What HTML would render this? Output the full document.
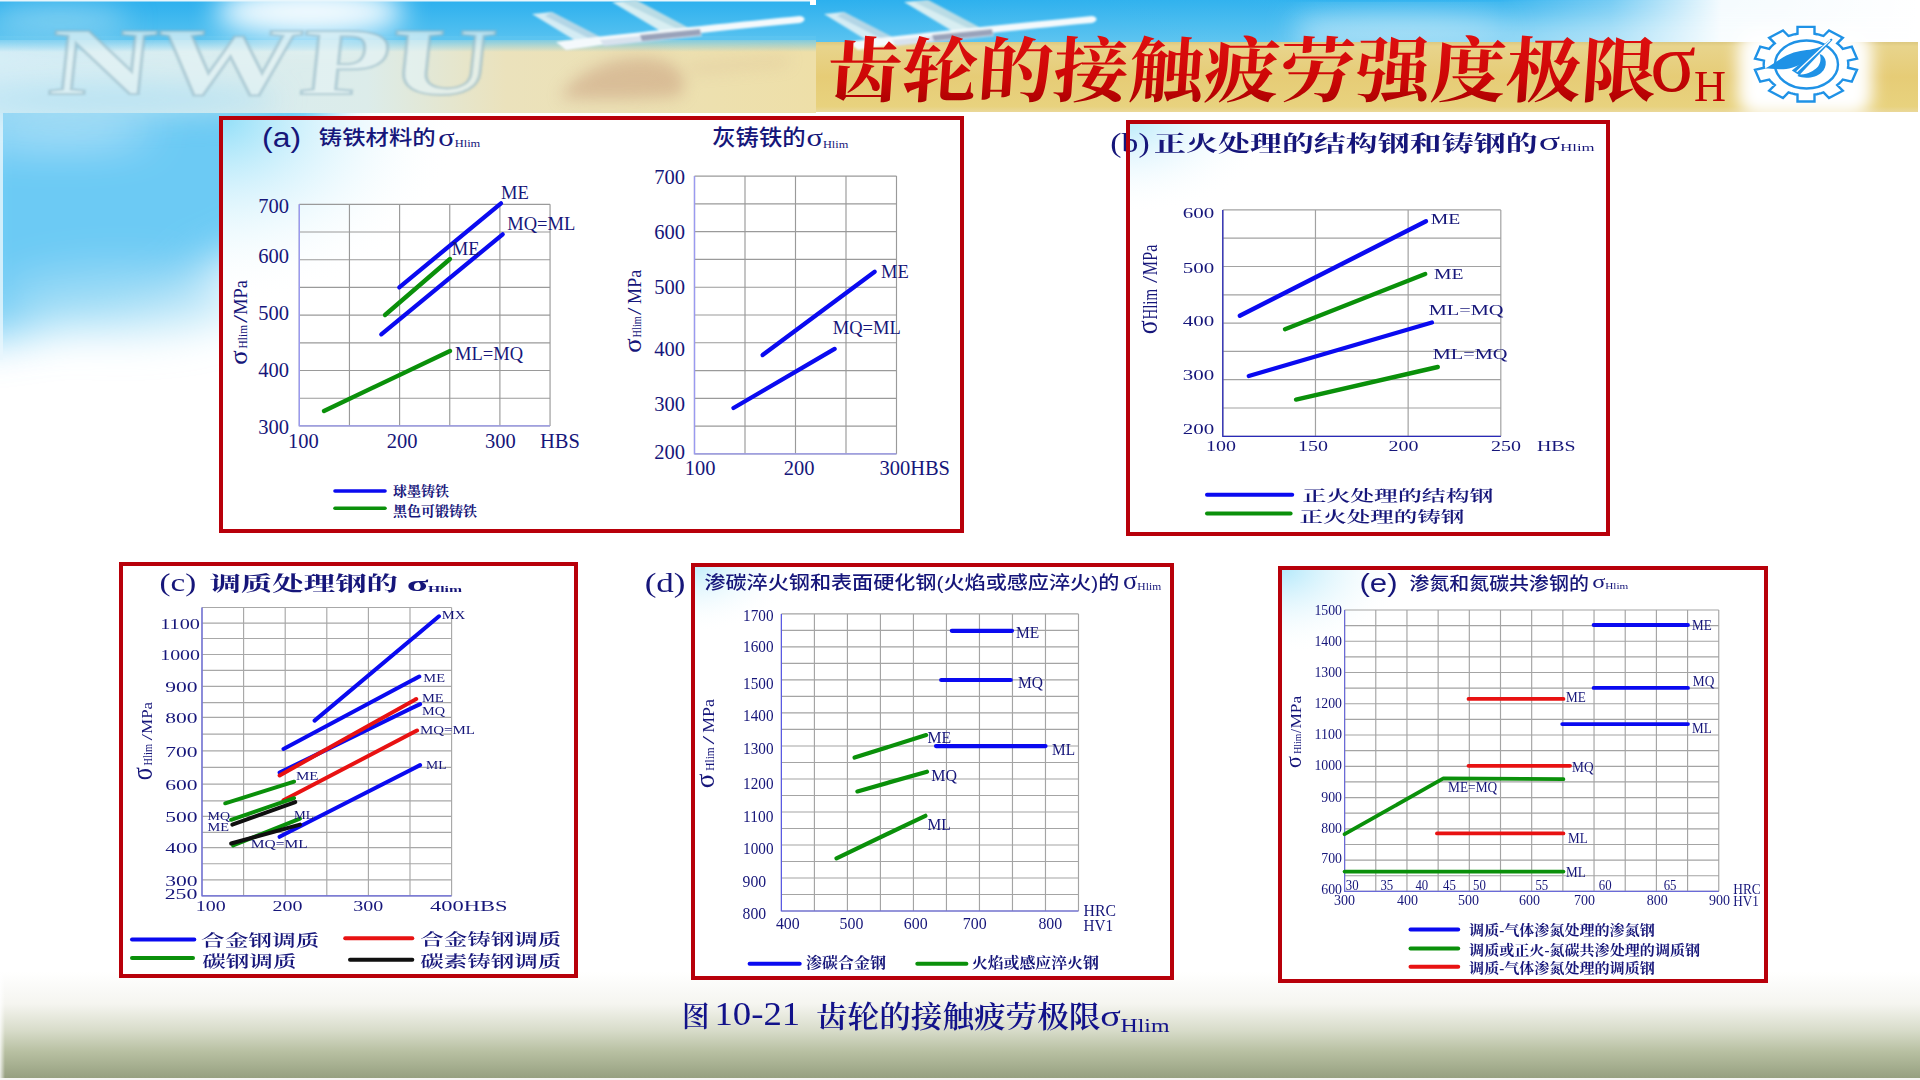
<!DOCTYPE html>
<html lang="zh-CN"><head><meta charset="utf-8"><title>齿轮的接触疲劳强度极限</title>
<style>
html,body{margin:0;padding:0;width:1920px;height:1080px;overflow:hidden;background:#fff}
svg{position:absolute;left:0;top:0;display:block}
</style></head><body>
<svg width="1920" height="1080" viewBox="0 0 1920 1080" fill="#16167a">
<defs>
<linearGradient id="botg" x1="0" y1="0" x2="0" y2="1">
 <stop offset="0" stop-color="#ffffff"/>
 <stop offset="0.3" stop-color="#f5f5f0"/>
 <stop offset="0.55" stop-color="#d8dcca"/>
 <stop offset="0.75" stop-color="#b8c0a2"/>
 <stop offset="1" stop-color="#96a080"/>
</linearGradient>
<linearGradient id="botL" x1="0" y1="0" x2="1" y2="0">
 <stop offset="0" stop-color="#ffffff" stop-opacity="0.8"/>
 <stop offset="1" stop-color="#ffffff" stop-opacity="0"/>
</linearGradient>
<linearGradient id="sky" x1="0" y1="0" x2="0" y2="1">
 <stop offset="0" stop-color="#2cb0ee"/>
 <stop offset="1" stop-color="#5cc4f0"/>
</linearGradient>
<linearGradient id="skyFadeR" x1="0" y1="0" x2="1" y2="0">
 <stop offset="0" stop-color="#ffffff" stop-opacity="0"/>
 <stop offset="0.62" stop-color="#ffffff" stop-opacity="0.05"/>
 <stop offset="0.72" stop-color="#ffffff" stop-opacity="0.35"/>
 <stop offset="0.82" stop-color="#ffffff" stop-opacity="0.95"/>
 <stop offset="1" stop-color="#ffffff" stop-opacity="1"/>
</linearGradient>
<linearGradient id="bandTop" x1="0" y1="0" x2="0" y2="1">
 <stop offset="0" stop-color="#5cc4f0" stop-opacity="1"/>
 <stop offset="1" stop-color="#5cc4f0" stop-opacity="0"/>
</linearGradient>
<linearGradient id="tanR" x1="0" y1="0" x2="0" y2="1">
 <stop offset="0" stop-color="#dcc880"/>
 <stop offset="0.06" stop-color="#e8d48c"/>
 <stop offset="0.5" stop-color="#e6cc76"/>
 <stop offset="0.92" stop-color="#e8d27e"/>
 <stop offset="1" stop-color="#ead89a"/>
</linearGradient>
<linearGradient id="hazeB" x1="0" y1="0" x2="0" y2="1">
 <stop offset="0" stop-color="#ffffff" stop-opacity="0"/>
 <stop offset="1" stop-color="#ffffff" stop-opacity="0.85"/>
</linearGradient>
<linearGradient id="bandL" x1="0" y1="0" x2="1" y2="0">
 <stop offset="0" stop-color="#d6eef6"/>
 <stop offset="0.45" stop-color="#dcecea"/>
 <stop offset="0.62" stop-color="#ebe2bc"/>
 <stop offset="1" stop-color="#eedfa8"/>
</linearGradient>
<linearGradient id="titleRed" x1="0" y1="0" x2="0" y2="1">
 <stop offset="0" stop-color="#e01010"/>
 <stop offset="0.6" stop-color="#cc0606"/>
 <stop offset="1" stop-color="#a00000"/>
</linearGradient>
<radialGradient id="glow" cx="0.5" cy="0.5" r="0.5">
 <stop offset="0" stop-color="#ffffff"/>
 <stop offset="0.55" stop-color="#ffffff" stop-opacity="0.97"/>
 <stop offset="1" stop-color="#ffffff" stop-opacity="0"/>
</radialGradient>
<filter id="blur8" x="-50%" y="-50%" width="200%" height="200%"><feGaussianBlur stdDeviation="8"/></filter>
<filter id="blur14" x="-50%" y="-50%" width="200%" height="200%"><feGaussianBlur stdDeviation="14"/></filter>
<filter id="blur22" x="-50%" y="-50%" width="200%" height="200%"><feGaussianBlur stdDeviation="22"/></filter>
<filter id="blur3" x="-50%" y="-50%" width="200%" height="200%"><feGaussianBlur stdDeviation="2.5"/></filter>
<filter id="blur1" x="-50%" y="-50%" width="200%" height="200%"><feGaussianBlur stdDeviation="1.2"/></filter>
</defs>
<rect x="0" y="0" width="1920" height="1080" fill="#fff"/>
<g filter="url(#blur22)"><path d="M-40 60 L330 60 L330 170 C300 230 250 250 200 270 C150 300 90 330 -40 340 Z" fill="#6ccaf4"/><ellipse cx="60" cy="128" rx="90" ry="14" fill="#cdeefa" opacity="0.8"/><ellipse cx="120" cy="300" rx="120" ry="30" fill="#a8def6" opacity="0.8"/></g>
<rect x="0" y="100" width="3" height="260" fill="#e8f6fc" opacity="0.8"/>
<rect x="0" y="972" width="1920" height="106" fill="url(#botg)"/>
<rect x="0" y="972" width="5" height="106" fill="url(#botL)"/>
<rect x="0" y="1078" width="1920" height="2" fill="#f6f6f4"/>
<rect x="0" y="0" width="816" height="44" fill="url(#sky)"/>
<rect x="0" y="40" width="816" height="73" fill="url(#bandL)"/>
<rect x="0" y="36" width="816" height="16" fill="url(#bandTop)"/>
<g filter="url(#blur14)"><ellipse cx="310" cy="12" rx="95" ry="26" fill="#f4fbfe"/><ellipse cx="60" cy="20" rx="70" ry="16" fill="#9ad8f2" opacity="0.7"/><ellipse cx="120" cy="100" rx="160" ry="16" fill="#b0e0f2" opacity="0.8"/></g>
<rect x="0" y="0" width="816" height="1.5" fill="#e8f6fc"/>
<g filter="url(#blur1)"><text x="45" y="94" font-size="96" font-family='"Liberation Serif",serif' font-weight="bold" fill="#e4f2f4" fill-opacity="0.7" stroke="#8fb4c2" stroke-opacity="0.55" stroke-width="2.2" textLength="445" lengthAdjust="spacingAndGlyphs" transform="translate(12 0) skewX(-6)">NWPU</text></g>
<g filter="url(#blur1)" transform="translate(0 0)"><path d="M532 14 L552 12 L606 40 L584 46 Z" fill="#d4ecf4"/><path d="M545 16 L552 12 L606 40 L596 42 Z" fill="#9cc8dc" opacity="0.6"/><path d="M612 2 L636 0 L700 34 L672 38 Z" fill="#d8eef2"/><path d="M622 2 L636 0 L700 34 L690 35 Z" fill="#a6d0dc" opacity="0.6"/><path d="M556 42 C600 36 700 26 800 16 C806 17 806 21 800 23 C700 32 620 42 566 50 Z" fill="#f4f9fc"/><path d="M600 40 L700 30 L702 36 L604 46 Z" fill="#d8e2ee"/><path d="M640 35 L700 29 L701 35 L642 41 Z" fill="#8a92ac" opacity="0.8"/></g>
<g filter="url(#blur8)" opacity="0.5"><path d="M560 98 C575 72 610 56 650 58 C680 62 690 78 680 96 C640 100 600 100 560 98 Z" fill="#c69a7c"/><path d="M690 66 L790 58 L785 64 L690 72 Z" fill="#d6b48e"/></g>
<rect x="816" y="0" width="1104" height="44" fill="url(#sky)"/>
<rect x="816" y="0" width="1104" height="44" fill="url(#skyFadeR)"/>
<rect x="1300" y="16" width="640" height="30" fill="url(#hazeB)" opacity="0.8" filter="url(#blur14)"/>
<g filter="url(#blur14)"><ellipse cx="1400" cy="26" rx="110" ry="12" fill="#e6f5fc" opacity="0.5"/></g>
<rect x="816" y="42" width="1102" height="70" fill="url(#tanR)"/>
<rect x="1738" y="30" width="134" height="86" rx="20" fill="#ffffff" filter="url(#blur8)"/>
<rect x="1918" y="0" width="2" height="115" fill="#fff"/>
<rect x="810" y="0" width="6" height="5" fill="#fff"/>
<g filter="url(#blur1)" transform="translate(292 0)"><path d="M532 14 L552 12 L606 40 L584 46 Z" fill="#d4ecf4"/><path d="M545 16 L552 12 L606 40 L596 42 Z" fill="#9cc8dc" opacity="0.6"/><path d="M612 2 L636 0 L700 34 L672 38 Z" fill="#d8eef2"/><path d="M622 2 L636 0 L700 34 L690 35 Z" fill="#a6d0dc" opacity="0.6"/><path d="M556 42 C600 36 700 26 800 16 C806 17 806 21 800 23 C700 32 620 42 566 50 Z" fill="#f4f9fc"/><path d="M600 40 L700 30 L702 36 L604 46 Z" fill="#d8e2ee"/><path d="M640 35 L700 29 L701 35 L642 41 Z" fill="#8a92ac" opacity="0.8"/></g>
<text x="829" y="96" font-size="71" font-family='"Liberation Serif","Noto Serif CJK SC",serif' font-weight="700" fill="url(#titleRed)" textLength="830" lengthAdjust="spacingAndGlyphs" transform="translate(3 0) skewX(-4)">齿轮的接触疲劳强度极限</text>
<text x="1650" y="90.5" font-size="84" font-family='"Liberation Serif",serif' fill="url(#titleRed)" textLength="46" lengthAdjust="spacingAndGlyphs">σ</text>
<text x="1694" y="101" font-size="44" font-family='"Liberation Serif",serif' fill="#c40404" textLength="32" lengthAdjust="spacingAndGlyphs">H</text>
<path d="M1797.5 33.8 L1797.5 26.9 L1814.5 26.9 L1814.5 33.8 L1816.8 34.2 L1819.1 34.7 L1821.3 35.3 L1823.5 36.0 L1829.0 30.4 L1842.8 37.7 L1837.2 43.3 L1838.8 44.6 L1840.2 46.0 L1841.6 47.4 L1842.8 48.9 L1851.8 46.7 L1857.0 58.6 L1848.0 60.7 L1848.2 62.5 L1848.3 64.2 L1848.2 65.9 L1848.0 67.7 L1857.0 69.8 L1851.8 81.7 L1842.8 79.5 L1841.6 81.0 L1840.2 82.4 L1838.8 83.8 L1837.2 85.1 L1842.8 90.7 L1829.0 98.0 L1823.5 92.4 L1821.3 93.1 L1819.1 93.7 L1816.8 94.2 L1814.5 94.6 L1814.5 101.5 L1797.5 101.5 L1797.5 94.6 L1795.2 94.2 L1792.9 93.7 L1790.7 93.1 L1788.5 92.4 L1783.0 98.0 L1769.2 90.7 L1774.8 85.1 L1773.2 83.8 L1771.8 82.4 L1770.4 81.0 L1769.2 79.5 L1760.2 81.7 L1755.0 69.8 L1764.0 67.7 L1763.8 65.9 L1763.7 64.2 L1763.8 62.5 L1764.0 60.7 L1755.0 58.6 L1760.2 46.7 L1769.2 48.9 L1770.4 47.4 L1771.8 46.0 L1773.2 44.6 L1774.8 43.3 L1769.2 37.7 L1783.0 30.4 L1788.5 36.0 L1790.7 35.3 L1792.9 34.7 L1795.2 34.2 Z" fill="#fff" stroke="#1f92e6" stroke-width="2.4" stroke-linejoin="miter"/>
<ellipse cx="1806.5" cy="64.5" rx="31.5" ry="24" fill="none" stroke="#1f92e6" stroke-width="2.4"/>
<g transform="translate(1740 15) scale(0.0926)" fill="#1f92e6"><path d="M270 578 C380 520 470 440 580 405 C680 375 760 385 860 345 L900 330 C840 400 760 470 680 520 C600 565 500 590 420 585 C360 582 310 580 270 578 Z"/><path d="M560 600 L985 255 L1000 268 L640 650 Z"/><path d="M612 612 L975 270" stroke="#fff" stroke-width="14" fill="none"/><path d="M860 420 C940 440 950 560 880 620 C820 680 700 690 620 660 L640 640 C720 650 800 600 830 570 C870 530 880 470 860 420 Z"/></g>
<rect x="219" y="116" width="745" height="417" fill="#fff"/>
<radialGradient id="tn1" gradientUnits="userSpaceOnUse" cx="219" cy="116" r="240" gradientTransform="translate(219 116) scale(1 0.79) translate(-219 -116)"><stop offset="0" stop-color="#88dcf8" stop-opacity="0.95"/><stop offset="0.4" stop-color="#b4e8fa" stop-opacity="0.52"/><stop offset="1" stop-color="#ffffff" stop-opacity="0"/></radialGradient>
<rect x="219" y="116" width="240" height="190" fill="url(#tn1)"/>
<rect x="221" y="118" width="741" height="413" fill="none" stroke="#b8000a" stroke-width="4"/>
<rect x="1126" y="120" width="484" height="416" fill="#fff"/>
<radialGradient id="tn2" gradientUnits="userSpaceOnUse" cx="1126" cy="120" r="150" gradientTransform="translate(1126 120) scale(1 0.63) translate(-1126 -120)"><stop offset="0" stop-color="#88dcf8" stop-opacity="0.6"/><stop offset="0.4" stop-color="#b4e8fa" stop-opacity="0.33"/><stop offset="1" stop-color="#ffffff" stop-opacity="0"/></radialGradient>
<rect x="1126" y="120" width="150" height="95" fill="url(#tn2)"/>
<rect x="1128" y="122" width="480" height="412" fill="none" stroke="#b8000a" stroke-width="4"/>
<rect x="119" y="562" width="459" height="416" fill="#fff"/>
<rect x="121" y="564" width="455" height="412" fill="none" stroke="#b8000a" stroke-width="4"/>
<rect x="691" y="563" width="483" height="417" fill="#fff"/>
<radialGradient id="tn3" gradientUnits="userSpaceOnUse" cx="691" cy="563" r="110" gradientTransform="translate(691 563) scale(1 0.64) translate(-691 -563)"><stop offset="0" stop-color="#88dcf8" stop-opacity="0.6"/><stop offset="0.4" stop-color="#b4e8fa" stop-opacity="0.33"/><stop offset="1" stop-color="#ffffff" stop-opacity="0"/></radialGradient>
<rect x="691" y="563" width="110" height="70" fill="url(#tn3)"/>
<rect x="693" y="565" width="479" height="413" fill="none" stroke="#b8000a" stroke-width="4"/>
<rect x="1278" y="566" width="490" height="417" fill="#fff"/>
<radialGradient id="tn4" gradientUnits="userSpaceOnUse" cx="1278" cy="566" r="130" gradientTransform="translate(1278 566) scale(1 0.69) translate(-1278 -566)"><stop offset="0" stop-color="#88dcf8" stop-opacity="0.7"/><stop offset="0.4" stop-color="#b4e8fa" stop-opacity="0.39"/><stop offset="1" stop-color="#ffffff" stop-opacity="0"/></radialGradient>
<rect x="1278" y="566" width="130" height="90" fill="url(#tn4)"/>
<rect x="1280" y="568" width="486" height="413" fill="none" stroke="#b8000a" stroke-width="4"/>
<path d="M299.3 204.3V425.9M349.45 204.3V425.9M399.6 204.3V425.9M449.75 204.3V425.9M499.9 204.3V425.9M550.05 204.3V425.9M299.3 204.3H550.05M299.3 232H550.05M299.3 259.7H550.05M299.3 287.4H550.05M299.3 315.1H550.05M299.3 342.8H550.05M299.3 370.5H550.05M299.3 398.2H550.05M299.3 425.9H550.05" stroke="#9a9a9a" stroke-width="1.15" fill="none"/>
<path d="M299.3 204.3V425.9H550.05" stroke="#9a9af0" stroke-width="1.4" fill="none"/>
<text x="289" y="213.3" font-size="20.5" font-family='"Liberation Serif","Noto Serif CJK SC",serif' text-anchor="end">700</text>
<text x="289" y="262.6" font-size="20.5" font-family='"Liberation Serif","Noto Serif CJK SC",serif' text-anchor="end">600</text>
<text x="289" y="319.6" font-size="20.5" font-family='"Liberation Serif","Noto Serif CJK SC",serif' text-anchor="end">500</text>
<text x="289" y="376.5" font-size="20.5" font-family='"Liberation Serif","Noto Serif CJK SC",serif' text-anchor="end">400</text>
<text x="289" y="433.5" font-size="20.5" font-family='"Liberation Serif","Noto Serif CJK SC",serif' text-anchor="end">300</text>
<text x="288" y="447.5" font-size="20.5" font-family='"Liberation Serif","Noto Serif CJK SC",serif'>100</text>
<text x="386.7" y="447.5" font-size="20.5" font-family='"Liberation Serif","Noto Serif CJK SC",serif'>200</text>
<text x="485" y="447.5" font-size="20.5" font-family='"Liberation Serif","Noto Serif CJK SC",serif'>300</text>
<text x="540" y="447.5" font-size="20.5" font-family='"Liberation Serif","Noto Serif CJK SC",serif'>HBS</text>
<line x1="399.3" y1="287.3" x2="501" y2="203.3" stroke="#0a0af0" stroke-width="4.3" stroke-linecap="round"/>
<line x1="381.3" y1="334.3" x2="502.7" y2="234.3" stroke="#0a0af0" stroke-width="4.3" stroke-linecap="round"/>
<line x1="385" y1="315" x2="450" y2="259" stroke="#0a900a" stroke-width="4.3" stroke-linecap="round"/>
<line x1="324" y1="411" x2="450" y2="351" stroke="#0a900a" stroke-width="4.3" stroke-linecap="round"/>
<text x="501" y="199" font-size="18.5" font-family='"Liberation Serif","Noto Serif CJK SC",serif'>ME</text>
<text x="507.3" y="230" font-size="18.5" font-family='"Liberation Serif","Noto Serif CJK SC",serif'>MQ=ML</text>
<text x="451.7" y="255" font-size="18.5" font-family='"Liberation Serif","Noto Serif CJK SC",serif'>ME</text>
<text x="455" y="360" font-size="18.5" font-family='"Liberation Serif","Noto Serif CJK SC",serif'>ML=MQ</text>
<line x1="335" y1="491" x2="385" y2="491" stroke="#0a0af0" stroke-width="3.6" stroke-linecap="round"/>
<line x1="335" y1="508.3" x2="385" y2="508.3" stroke="#0a900a" stroke-width="3.6" stroke-linecap="round"/>
<text x="393" y="496" font-size="14" font-family='"Liberation Serif","Noto Serif CJK SC",serif' font-weight="bold">球墨铸铁</text>
<text x="393" y="516" font-size="14" font-family='"Liberation Serif","Noto Serif CJK SC",serif' font-weight="bold">黑色可锻铸铁</text>
<text x="262.1" y="147.24" font-size="27.42" font-family='"Liberation Sans","Noto Sans CJK SC",sans-serif' textLength="38.94" lengthAdjust="spacingAndGlyphs">(a)</text>
<text x="318.8" y="144.96" font-size="20" font-family='"Liberation Sans","Noto Sans CJK SC",sans-serif' font-weight="500" textLength="116.8" lengthAdjust="spacingAndGlyphs">铸铁材料的</text>
<text x="438.38" y="145.5" font-size="25.53" font-family='"Liberation Serif","Noto Serif CJK SC",serif' textLength="16.39" lengthAdjust="spacingAndGlyphs">σ</text>
<text x="454.71" y="146.5" font-size="9.77" font-family='"Liberation Serif","Noto Serif CJK SC",serif' textLength="25.59" lengthAdjust="spacingAndGlyphs">Hlim</text>
<text transform="translate(246.5 364.7) rotate(-90)" font-size="25" font-family='"Liberation Serif","Noto Serif CJK SC",serif' textLength="14.3" lengthAdjust="spacingAndGlyphs">σ</text>
<text transform="translate(246.5 348.4) rotate(-90)" font-size="12.5" font-family='"Liberation Serif","Noto Serif CJK SC",serif' textLength="23.4" lengthAdjust="spacingAndGlyphs">Hlim</text>
<text transform="translate(246.5 323) rotate(-90)" font-size="19" font-family='"Liberation Serif","Noto Serif CJK SC",serif' textLength="8.2" lengthAdjust="spacingAndGlyphs">/</text>
<text transform="translate(246.5 314.8) rotate(-90)" font-size="19" font-family='"Liberation Serif","Noto Serif CJK SC",serif' textLength="34.6" lengthAdjust="spacingAndGlyphs">MPa</text>
<path d="M694.5 176.1V453.9M745 176.1V453.9M795.5 176.1V453.9M846 176.1V453.9M896.5 176.1V453.9M694.5 176.1H896.5M694.5 203.88H896.5M694.5 231.66H896.5M694.5 259.44H896.5M694.5 287.22H896.5M694.5 315H896.5M694.5 342.78H896.5M694.5 370.56H896.5M694.5 398.34H896.5M694.5 426.12H896.5M694.5 453.9H896.5" stroke="#9a9a9a" stroke-width="1.15" fill="none"/>
<path d="M694.5 176.1V453.9H896.5" stroke="#9a9af0" stroke-width="1.4" fill="none"/>
<text x="685" y="183.5" font-size="20.5" font-family='"Liberation Serif","Noto Serif CJK SC",serif' text-anchor="end">700</text>
<text x="685" y="239.1" font-size="20.5" font-family='"Liberation Serif","Noto Serif CJK SC",serif' text-anchor="end">600</text>
<text x="685" y="294.4" font-size="20.5" font-family='"Liberation Serif","Noto Serif CJK SC",serif' text-anchor="end">500</text>
<text x="685" y="356.2" font-size="20.5" font-family='"Liberation Serif","Noto Serif CJK SC",serif' text-anchor="end">400</text>
<text x="685" y="411.1" font-size="20.5" font-family='"Liberation Serif","Noto Serif CJK SC",serif' text-anchor="end">300</text>
<text x="685" y="458.6" font-size="20.5" font-family='"Liberation Serif","Noto Serif CJK SC",serif' text-anchor="end">200</text>
<text x="684.8" y="475" font-size="20.5" font-family='"Liberation Serif","Noto Serif CJK SC",serif'>100</text>
<text x="783.7" y="475" font-size="20.5" font-family='"Liberation Serif","Noto Serif CJK SC",serif'>200</text>
<text x="879.4" y="475" font-size="20.5" font-family='"Liberation Serif","Noto Serif CJK SC",serif'>300HBS</text>
<line x1="762.6" y1="355.1" x2="874.7" y2="271.8" stroke="#0a0af0" stroke-width="4.3" stroke-linecap="round"/>
<line x1="733.5" y1="408" x2="834.6" y2="348.9" stroke="#0a0af0" stroke-width="4.3" stroke-linecap="round"/>
<text x="881" y="278.4" font-size="18.5" font-family='"Liberation Serif","Noto Serif CJK SC",serif'>ME</text>
<text x="832.7" y="334" font-size="18.5" font-family='"Liberation Serif","Noto Serif CJK SC",serif'>MQ=ML</text>
<text x="712.26" y="145.06" font-size="21.3" font-family='"Liberation Sans","Noto Sans CJK SC",sans-serif' font-weight="500" textLength="93.38" lengthAdjust="spacingAndGlyphs">灰铸铁的</text>
<text x="806.53" y="146" font-size="24.26" font-family='"Liberation Serif","Noto Serif CJK SC",serif' textLength="16.44" lengthAdjust="spacingAndGlyphs">σ</text>
<text x="822.96" y="147.5" font-size="11.28" font-family='"Liberation Serif","Noto Serif CJK SC",serif' textLength="25.38" lengthAdjust="spacingAndGlyphs">Hlim</text>
<text transform="translate(640.5 352.8) rotate(-90)" font-size="25" font-family='"Liberation Serif","Noto Serif CJK SC",serif' textLength="14.3" lengthAdjust="spacingAndGlyphs">σ</text>
<text transform="translate(640.5 337.5) rotate(-90)" font-size="12.5" font-family='"Liberation Serif","Noto Serif CJK SC",serif' textLength="21.4" lengthAdjust="spacingAndGlyphs">Hlim</text>
<text transform="translate(640.5 315) rotate(-90)" font-size="19" font-family='"Liberation Serif","Noto Serif CJK SC",serif' textLength="7.6" lengthAdjust="spacingAndGlyphs">/</text>
<text transform="translate(640.5 303.9) rotate(-90)" font-size="19" font-family='"Liberation Serif","Noto Serif CJK SC",serif' textLength="34.1" lengthAdjust="spacingAndGlyphs">MPa</text>
<path d="M1222.8 209.9V436.3M1315.47 209.9V436.3M1408.14 209.9V436.3M1500.81 209.9V436.3M1222.8 209.9H1500.81M1222.8 238.2H1500.81M1222.8 266.5H1500.81M1222.8 294.8H1500.81M1222.8 323.1H1500.81M1222.8 351.4H1500.81M1222.8 379.7H1500.81M1222.8 408H1500.81M1222.8 436.3H1500.81" stroke="#a2a2a2" stroke-width="1.2" fill="none"/>
<path d="M1222.8 209.9V436.3H1500.81" stroke="#2a2ab8" stroke-width="1.3" fill="none"/>
<text x="1214.2" y="218.4" font-size="15.5" font-family='"Liberation Serif","Noto Serif CJK SC",serif' text-anchor="end" textLength="31.5" lengthAdjust="spacingAndGlyphs">600</text>
<text x="1214.2" y="272.8" font-size="15.5" font-family='"Liberation Serif","Noto Serif CJK SC",serif' text-anchor="end" textLength="31.5" lengthAdjust="spacingAndGlyphs">500</text>
<text x="1214.2" y="326.3" font-size="15.5" font-family='"Liberation Serif","Noto Serif CJK SC",serif' text-anchor="end" textLength="31.5" lengthAdjust="spacingAndGlyphs">400</text>
<text x="1214.2" y="380.2" font-size="15.5" font-family='"Liberation Serif","Noto Serif CJK SC",serif' text-anchor="end" textLength="31.5" lengthAdjust="spacingAndGlyphs">300</text>
<text x="1214.2" y="434.2" font-size="15.5" font-family='"Liberation Serif","Noto Serif CJK SC",serif' text-anchor="end" textLength="31.5" lengthAdjust="spacingAndGlyphs">200</text>
<text x="1206" y="451.2" font-size="15.5" font-family='"Liberation Serif","Noto Serif CJK SC",serif' textLength="30" lengthAdjust="spacingAndGlyphs">100</text>
<text x="1298" y="451.2" font-size="15.5" font-family='"Liberation Serif","Noto Serif CJK SC",serif' textLength="30" lengthAdjust="spacingAndGlyphs">150</text>
<text x="1388.6" y="451.2" font-size="15.5" font-family='"Liberation Serif","Noto Serif CJK SC",serif' textLength="30" lengthAdjust="spacingAndGlyphs">200</text>
<text x="1491" y="451.2" font-size="15.5" font-family='"Liberation Serif","Noto Serif CJK SC",serif' textLength="30" lengthAdjust="spacingAndGlyphs">250</text>
<text x="1537" y="451.2" font-size="15.5" font-family='"Liberation Serif","Noto Serif CJK SC",serif' textLength="38.6" lengthAdjust="spacingAndGlyphs">HBS</text>
<line x1="1239.8" y1="315.8" x2="1426" y2="221.3" stroke="#0a0af0" stroke-width="4.4" stroke-linecap="round"/>
<line x1="1285" y1="329.2" x2="1425.2" y2="274" stroke="#0a900a" stroke-width="4.4" stroke-linecap="round"/>
<line x1="1248.8" y1="376" x2="1431.9" y2="322.5" stroke="#0a0af0" stroke-width="4.4" stroke-linecap="round"/>
<line x1="1296" y1="399.6" x2="1437.8" y2="367" stroke="#0a900a" stroke-width="4.4" stroke-linecap="round"/>
<text x="1430.7" y="223.8" font-size="15.5" font-family='"Liberation Serif","Noto Serif CJK SC",serif' textLength="29.5" lengthAdjust="spacingAndGlyphs">ME</text>
<text x="1433.9" y="278.6" font-size="15.5" font-family='"Liberation Serif","Noto Serif CJK SC",serif' textLength="29.5" lengthAdjust="spacingAndGlyphs">ME</text>
<text x="1428.7" y="315.2" font-size="15.5" font-family='"Liberation Serif","Noto Serif CJK SC",serif' textLength="74.8" lengthAdjust="spacingAndGlyphs">ML=MQ</text>
<text x="1432.7" y="358.5" font-size="15.5" font-family='"Liberation Serif","Noto Serif CJK SC",serif' textLength="74.8" lengthAdjust="spacingAndGlyphs">ML=MQ</text>
<text x="1110.38" y="152.01" font-size="26.3" font-family='"Liberation Serif","Noto Serif CJK SC",serif' textLength="39.33" lengthAdjust="spacingAndGlyphs">(b)</text>
<rect x="1126" y="124" width="4" height="40" fill="#b8000a"/>
<text x="1154.07" y="150.6" font-size="21.16" font-family='"Liberation Serif","Noto Serif CJK SC",serif' font-weight="bold" textLength="383.57" lengthAdjust="spacingAndGlyphs">正火处理的结构钢和铸钢的</text>
<text x="1538.83" y="149.6" font-size="24.26" font-family='"Liberation Serif","Noto Serif CJK SC",serif' textLength="21.44" lengthAdjust="spacingAndGlyphs">σ</text>
<text x="1560.22" y="150.8" font-size="9.47" font-family='"Liberation Serif","Noto Serif CJK SC",serif' textLength="34.37" lengthAdjust="spacingAndGlyphs">Hlim</text>
<text transform="translate(1157 334.3) rotate(-90)" font-size="30" font-family='"Liberation Serif","Noto Serif CJK SC",serif' textLength="13.8" lengthAdjust="spacingAndGlyphs">σ</text>
<text transform="translate(1157 319.5) rotate(-90)" font-size="21" font-family='"Liberation Serif","Noto Serif CJK SC",serif' textLength="30.5" lengthAdjust="spacingAndGlyphs">Hlim</text>
<text transform="translate(1157 282.9) rotate(-90)" font-size="22" font-family='"Liberation Serif","Noto Serif CJK SC",serif' textLength="7.2" lengthAdjust="spacingAndGlyphs">/</text>
<text transform="translate(1157 275.2) rotate(-90)" font-size="22" font-family='"Liberation Serif","Noto Serif CJK SC",serif' textLength="30.5" lengthAdjust="spacingAndGlyphs">MPa</text>
<line x1="1207" y1="494.8" x2="1292.2" y2="494.8" stroke="#0a0af0" stroke-width="4" stroke-linecap="round"/>
<line x1="1207" y1="513.6" x2="1290.6" y2="513.6" stroke="#0a900a" stroke-width="4" stroke-linecap="round"/>
<text x="1302.55" y="500.56" font-size="14.84" font-family='"Liberation Serif","Noto Serif CJK SC",serif' font-weight="600" textLength="190.89" lengthAdjust="spacingAndGlyphs">正火处理的结构钢</text>
<text x="1299.56" y="522.42" font-size="14.79" font-family='"Liberation Serif","Noto Serif CJK SC",serif' font-weight="600" textLength="164.89" lengthAdjust="spacingAndGlyphs">正火处理的铸钢</text>
<path d="M202 607.5V895.8M243.6 607.5V895.8M285.2 607.5V895.8M326.8 607.5V895.8M368.4 607.5V895.8M410 607.5V895.8M451.6 607.5V895.8M202 607.5H451.6M202 623.1H451.6M202 638.5H451.6M202 654.5H451.6M202 670.4H451.6M202 686.4H451.6M202 702.6H451.6M202 717.4H451.6M202 734.1H451.6M202 750.8H451.6M202 767.4H451.6M202 784.1H451.6M202 800.8H451.6M202 816.3H451.6M202 832.4H451.6M202 847.6H451.6M202 863.7H451.6M202 879.8H451.6M202 895.8H451.6" stroke="#a8a8a8" stroke-width="1.15" fill="none"/>
<path d="M202 607.5V895.8H451.6" stroke="#6a6ae0" stroke-width="1.3" fill="none"/>
<text x="200" y="628.9" font-size="15.5" font-family='"Liberation Serif","Noto Serif CJK SC",serif' text-anchor="end" textLength="39.8" lengthAdjust="spacingAndGlyphs">1100</text>
<text x="200" y="660.3" font-size="15.5" font-family='"Liberation Serif","Noto Serif CJK SC",serif' text-anchor="end" textLength="39.8" lengthAdjust="spacingAndGlyphs">1000</text>
<text x="197.5" y="692.2" font-size="15.5" font-family='"Liberation Serif","Noto Serif CJK SC",serif' text-anchor="end" textLength="32.3" lengthAdjust="spacingAndGlyphs">900</text>
<text x="197.5" y="723.2" font-size="15.5" font-family='"Liberation Serif","Noto Serif CJK SC",serif' text-anchor="end" textLength="32.3" lengthAdjust="spacingAndGlyphs">800</text>
<text x="197.5" y="756.6" font-size="15.5" font-family='"Liberation Serif","Noto Serif CJK SC",serif' text-anchor="end" textLength="32.3" lengthAdjust="spacingAndGlyphs">700</text>
<text x="197.5" y="789.9" font-size="15.5" font-family='"Liberation Serif","Noto Serif CJK SC",serif' text-anchor="end" textLength="32.3" lengthAdjust="spacingAndGlyphs">600</text>
<text x="197.5" y="822.1" font-size="15.5" font-family='"Liberation Serif","Noto Serif CJK SC",serif' text-anchor="end" textLength="32.3" lengthAdjust="spacingAndGlyphs">500</text>
<text x="197.5" y="853.4" font-size="15.5" font-family='"Liberation Serif","Noto Serif CJK SC",serif' text-anchor="end" textLength="32.3" lengthAdjust="spacingAndGlyphs">400</text>
<text x="197.5" y="885.6" font-size="15.5" font-family='"Liberation Serif","Noto Serif CJK SC",serif' text-anchor="end" textLength="32.3" lengthAdjust="spacingAndGlyphs">300</text>
<text x="197.5" y="899" font-size="15.5" font-family='"Liberation Serif","Noto Serif CJK SC",serif' text-anchor="end" textLength="32.8" lengthAdjust="spacingAndGlyphs">250</text>
<text x="195.7" y="910.8" font-size="15" font-family='"Liberation Serif","Noto Serif CJK SC",serif' textLength="30" lengthAdjust="spacingAndGlyphs">100</text>
<text x="272.5" y="910.8" font-size="15" font-family='"Liberation Serif","Noto Serif CJK SC",serif' textLength="30" lengthAdjust="spacingAndGlyphs">200</text>
<text x="353.2" y="910.8" font-size="15" font-family='"Liberation Serif","Noto Serif CJK SC",serif' textLength="30" lengthAdjust="spacingAndGlyphs">300</text>
<text x="430" y="910.8" font-size="15" font-family='"Liberation Serif","Noto Serif CJK SC",serif' textLength="77.5" lengthAdjust="spacingAndGlyphs">400HBS</text>
<line x1="314.6" y1="720.6" x2="439" y2="616.3" stroke="#0a0af0" stroke-width="4" stroke-linecap="round"/>
<line x1="283.5" y1="749" x2="419.3" y2="676.5" stroke="#0a0af0" stroke-width="4" stroke-linecap="round"/>
<line x1="279.6" y1="772.6" x2="420.1" y2="704.1" stroke="#0a0af0" stroke-width="4" stroke-linecap="round"/>
<line x1="279.6" y1="836.8" x2="420.1" y2="765.1" stroke="#0a0af0" stroke-width="4" stroke-linecap="round"/>
<line x1="279.6" y1="775.4" x2="416.2" y2="699" stroke="#e81212" stroke-width="4" stroke-linecap="round"/>
<line x1="283.5" y1="800.2" x2="417" y2="730.5" stroke="#e81212" stroke-width="4" stroke-linecap="round"/>
<line x1="225.2" y1="803.3" x2="294.1" y2="781.7" stroke="#0a900a" stroke-width="4" stroke-linecap="round"/>
<line x1="231.1" y1="819.8" x2="294.1" y2="798.2" stroke="#0a900a" stroke-width="4" stroke-linecap="round"/>
<line x1="233.1" y1="845.4" x2="300" y2="818.7" stroke="#0a900a" stroke-width="4" stroke-linecap="round"/>
<line x1="232.3" y1="824.6" x2="295.3" y2="802.1" stroke="#101010" stroke-width="4" stroke-linecap="round"/>
<line x1="231.1" y1="843.5" x2="300" y2="824.6" stroke="#101010" stroke-width="4" stroke-linecap="round"/>
<text x="441.8" y="618.5" font-size="12" font-family='"Liberation Serif","Noto Serif CJK SC",serif' textLength="23.6" lengthAdjust="spacingAndGlyphs">MX</text>
<text x="423.3" y="681.5" font-size="12" font-family='"Liberation Serif","Noto Serif CJK SC",serif' textLength="21.7" lengthAdjust="spacingAndGlyphs">ME</text>
<text x="422" y="702" font-size="12" font-family='"Liberation Serif","Noto Serif CJK SC",serif' textLength="21.7" lengthAdjust="spacingAndGlyphs">ME</text>
<text x="422" y="715" font-size="12" font-family='"Liberation Serif","Noto Serif CJK SC",serif' textLength="23" lengthAdjust="spacingAndGlyphs">MQ</text>
<text x="420" y="733.5" font-size="12" font-family='"Liberation Serif","Noto Serif CJK SC",serif' textLength="55" lengthAdjust="spacingAndGlyphs">MQ=ML</text>
<text x="426" y="768.9" font-size="12" font-family='"Liberation Serif","Noto Serif CJK SC",serif' textLength="20.5" lengthAdjust="spacingAndGlyphs">ML</text>
<text x="296" y="779.9" font-size="12" font-family='"Liberation Serif","Noto Serif CJK SC",serif' textLength="22.5" lengthAdjust="spacingAndGlyphs">ME</text>
<text x="294" y="819.2" font-size="12" font-family='"Liberation Serif","Noto Serif CJK SC",serif' textLength="19.8" lengthAdjust="spacingAndGlyphs">ML</text>
<text x="207.5" y="820.2" font-size="12" font-family='"Liberation Serif","Noto Serif CJK SC",serif' textLength="22.5" lengthAdjust="spacingAndGlyphs">MQ</text>
<text x="207.5" y="831.2" font-size="12" font-family='"Liberation Serif","Noto Serif CJK SC",serif' textLength="21.5" lengthAdjust="spacingAndGlyphs">ME</text>
<text x="250.8" y="847.7" font-size="12" font-family='"Liberation Serif","Noto Serif CJK SC",serif' textLength="57" lengthAdjust="spacingAndGlyphs">MQ=ML</text>
<text x="159.53" y="591.1" font-size="25.43" font-family='"Liberation Serif","Noto Serif CJK SC",serif' textLength="36.74" lengthAdjust="spacingAndGlyphs">(c)</text>
<text x="209.4" y="591.49" font-size="20.11" font-family='"Liberation Serif","Noto Serif CJK SC",serif' font-weight="bold" textLength="188.71" lengthAdjust="spacingAndGlyphs">调质处理钢的</text>
<text x="406.65" y="590.8" font-size="21.28" font-family='"Liberation Serif","Noto Serif CJK SC",serif' font-weight="bold" textLength="21.7" lengthAdjust="spacingAndGlyphs">σ</text>
<text x="428.03" y="591.7" font-size="8.87" font-family='"Liberation Serif","Noto Serif CJK SC",serif' font-weight="bold" textLength="33.93" lengthAdjust="spacingAndGlyphs">Hlim</text>
<text transform="translate(152.2 780.2) rotate(-90)" font-size="30" font-family='"Liberation Serif","Noto Serif CJK SC",serif' textLength="13" lengthAdjust="spacingAndGlyphs">σ</text>
<text transform="translate(152.2 765.4) rotate(-90)" font-size="11.5" font-family='"Liberation Serif","Noto Serif CJK SC",serif' textLength="21.4" lengthAdjust="spacingAndGlyphs">Hlim</text>
<text transform="translate(152.2 740.4) rotate(-90)" font-size="15" font-family='"Liberation Serif","Noto Serif CJK SC",serif' textLength="6.5" lengthAdjust="spacingAndGlyphs">/</text>
<text transform="translate(152.2 733.9) rotate(-90)" font-size="15" font-family='"Liberation Serif","Noto Serif CJK SC",serif' textLength="32" lengthAdjust="spacingAndGlyphs">MPa</text>
<line x1="132" y1="939.4" x2="194.3" y2="939.4" stroke="#0a0af0" stroke-width="4" stroke-linecap="round"/>
<line x1="345.2" y1="938.2" x2="412.3" y2="938.2" stroke="#e81212" stroke-width="4" stroke-linecap="round"/>
<line x1="132" y1="958" x2="193" y2="958" stroke="#0a900a" stroke-width="4" stroke-linecap="round"/>
<line x1="350" y1="959.7" x2="412.3" y2="959.7" stroke="#101010" stroke-width="4" stroke-linecap="round"/>
<text x="201.01" y="946.32" font-size="16.42" font-family='"Liberation Serif","Noto Serif CJK SC",serif' font-weight="600" textLength="118.39" lengthAdjust="spacingAndGlyphs">合金钢调质</text>
<text x="420.21" y="945.12" font-size="16.42" font-family='"Liberation Serif","Noto Serif CJK SC",serif' font-weight="600" textLength="141.09" lengthAdjust="spacingAndGlyphs">合金铸钢调质</text>
<text x="202.21" y="966.63" font-size="16.32" font-family='"Liberation Serif","Noto Serif CJK SC",serif' font-weight="600" textLength="94.28" lengthAdjust="spacingAndGlyphs">碳钢调质</text>
<text x="420.21" y="966.63" font-size="16.32" font-family='"Liberation Serif","Noto Serif CJK SC",serif' font-weight="600" textLength="141.08" lengthAdjust="spacingAndGlyphs">碳素铸钢调质</text>
<path d="M781.4 613.9V911.01M814.41 613.9V911.01M847.42 613.9V911.01M880.43 613.9V911.01M913.44 613.9V911.01M946.45 613.9V911.01M979.46 613.9V911.01M1012.47 613.9V911.01M1045.48 613.9V911.01M1078.49 613.9V911.01M781.4 613.9H1078.49M781.4 630.41H1078.49M781.4 646.91H1078.49M781.4 663.42H1078.49M781.4 679.92H1078.49M781.4 696.43H1078.49M781.4 712.94H1078.49M781.4 729.44H1078.49M781.4 745.95H1078.49M781.4 762.45H1078.49M781.4 778.96H1078.49M781.4 795.47H1078.49M781.4 811.97H1078.49M781.4 828.48H1078.49M781.4 844.98H1078.49M781.4 861.49H1078.49M781.4 878H1078.49M781.4 894.5H1078.49M781.4 911.01H1078.49" stroke="#a4a4a4" stroke-width="1.15" fill="none"/>
<path d="M781.4 613.9V911.01H1078.49" stroke="#5a5ae4" stroke-width="1.2" fill="none"/>
<text x="773.5" y="620.8" font-size="17" font-family='"Liberation Serif","Noto Serif CJK SC",serif' text-anchor="end" textLength="30.4" lengthAdjust="spacingAndGlyphs">1700</text>
<text x="773.5" y="652.4" font-size="17" font-family='"Liberation Serif","Noto Serif CJK SC",serif' text-anchor="end" textLength="30.4" lengthAdjust="spacingAndGlyphs">1600</text>
<text x="773.5" y="689" font-size="17" font-family='"Liberation Serif","Noto Serif CJK SC",serif' text-anchor="end" textLength="30.4" lengthAdjust="spacingAndGlyphs">1500</text>
<text x="773.5" y="721.3" font-size="17" font-family='"Liberation Serif","Noto Serif CJK SC",serif' text-anchor="end" textLength="30.4" lengthAdjust="spacingAndGlyphs">1400</text>
<text x="773.5" y="753.5" font-size="17" font-family='"Liberation Serif","Noto Serif CJK SC",serif' text-anchor="end" textLength="30.4" lengthAdjust="spacingAndGlyphs">1300</text>
<text x="773.5" y="789.3" font-size="17" font-family='"Liberation Serif","Noto Serif CJK SC",serif' text-anchor="end" textLength="30.4" lengthAdjust="spacingAndGlyphs">1200</text>
<text x="773.5" y="821.6" font-size="17" font-family='"Liberation Serif","Noto Serif CJK SC",serif' text-anchor="end" textLength="30.4" lengthAdjust="spacingAndGlyphs">1100</text>
<text x="773.5" y="854.3" font-size="17" font-family='"Liberation Serif","Noto Serif CJK SC",serif' text-anchor="end" textLength="30.4" lengthAdjust="spacingAndGlyphs">1000</text>
<text x="742.6" y="886.5" font-size="17" font-family='"Liberation Serif","Noto Serif CJK SC",serif' textLength="23.6" lengthAdjust="spacingAndGlyphs">900</text>
<text x="742.6" y="918.8" font-size="17" font-family='"Liberation Serif","Noto Serif CJK SC",serif' textLength="23.6" lengthAdjust="spacingAndGlyphs">800</text>
<text x="775.9" y="928.6" font-size="17" font-family='"Liberation Serif","Noto Serif CJK SC",serif' textLength="23.8" lengthAdjust="spacingAndGlyphs">400</text>
<text x="839.6" y="928.6" font-size="17" font-family='"Liberation Serif","Noto Serif CJK SC",serif' textLength="23.8" lengthAdjust="spacingAndGlyphs">500</text>
<text x="903.8" y="928.6" font-size="17" font-family='"Liberation Serif","Noto Serif CJK SC",serif' textLength="23.8" lengthAdjust="spacingAndGlyphs">600</text>
<text x="962.8" y="928.6" font-size="17" font-family='"Liberation Serif","Noto Serif CJK SC",serif' textLength="23.8" lengthAdjust="spacingAndGlyphs">700</text>
<text x="1038.4" y="928.6" font-size="17" font-family='"Liberation Serif","Noto Serif CJK SC",serif' textLength="23.8" lengthAdjust="spacingAndGlyphs">800</text>
<text x="1083.6" y="916" font-size="17" font-family='"Liberation Serif","Noto Serif CJK SC",serif' textLength="32.4" lengthAdjust="spacingAndGlyphs">HRC</text>
<text x="1083.6" y="930.5" font-size="17" font-family='"Liberation Serif","Noto Serif CJK SC",serif' textLength="29.5" lengthAdjust="spacingAndGlyphs">HV1</text>
<line x1="951.8" y1="630.8" x2="1012" y2="630.8" stroke="#0a0af0" stroke-width="4.2" stroke-linecap="round"/>
<line x1="941.2" y1="680" x2="1010.8" y2="680" stroke="#0a0af0" stroke-width="4.2" stroke-linecap="round"/>
<line x1="936" y1="746.1" x2="1045.5" y2="746.1" stroke="#0a0af0" stroke-width="4.2" stroke-linecap="round"/>
<line x1="854.6" y1="757.6" x2="926.2" y2="735.1" stroke="#0a900a" stroke-width="4.2" stroke-linecap="round"/>
<line x1="857.4" y1="791.4" x2="927" y2="771.7" stroke="#0a900a" stroke-width="4.2" stroke-linecap="round"/>
<line x1="836.5" y1="858.3" x2="925.4" y2="815.8" stroke="#0a900a" stroke-width="4.2" stroke-linecap="round"/>
<text x="1016" y="637.6" font-size="17.5" font-family='"Liberation Serif","Noto Serif CJK SC",serif' textLength="23.2" lengthAdjust="spacingAndGlyphs">ME</text>
<text x="1018" y="688" font-size="17.5" font-family='"Liberation Serif","Noto Serif CJK SC",serif' textLength="25" lengthAdjust="spacingAndGlyphs">MQ</text>
<text x="1052" y="754.9" font-size="17.5" font-family='"Liberation Serif","Noto Serif CJK SC",serif' textLength="23" lengthAdjust="spacingAndGlyphs">ML</text>
<text x="927.4" y="743.1" font-size="17.5" font-family='"Liberation Serif","Noto Serif CJK SC",serif' textLength="23.6" lengthAdjust="spacingAndGlyphs">ME</text>
<text x="931.3" y="780.5" font-size="17.5" font-family='"Liberation Serif","Noto Serif CJK SC",serif' textLength="25.7" lengthAdjust="spacingAndGlyphs">MQ</text>
<text x="927.4" y="829.7" font-size="17.5" font-family='"Liberation Serif","Noto Serif CJK SC",serif' textLength="23.2" lengthAdjust="spacingAndGlyphs">ML</text>
<text x="644.67" y="591.64" font-size="26.63" font-family='"Liberation Serif","Noto Serif CJK SC",serif' textLength="40.86" lengthAdjust="spacingAndGlyphs">(d)</text>
<text x="704.44" y="588.77" font-size="18.6" font-family='"Liberation Sans","Noto Sans CJK SC",sans-serif' font-weight="500" textLength="414.82" lengthAdjust="spacingAndGlyphs">渗碳淬火钢和表面硬化钢(火焰或感应淬火)的</text>
<text x="1123.02" y="588.9" font-size="24.47" font-family='"Liberation Serif","Noto Serif CJK SC",serif' textLength="14.36" lengthAdjust="spacingAndGlyphs">σ</text>
<text x="1137.36" y="589.8" font-size="11.28" font-family='"Liberation Serif","Noto Serif CJK SC",serif' textLength="23.78" lengthAdjust="spacingAndGlyphs">Hlim</text>
<text transform="translate(714 788.2) rotate(-90)" font-size="27" font-family='"Liberation Serif","Noto Serif CJK SC",serif' textLength="14.6" lengthAdjust="spacingAndGlyphs">σ</text>
<text transform="translate(714 770.7) rotate(-90)" font-size="11.5" font-family='"Liberation Serif","Noto Serif CJK SC",serif' textLength="23.4" lengthAdjust="spacingAndGlyphs">Hlim</text>
<text transform="translate(714 744.4) rotate(-90)" font-size="17" font-family='"Liberation Serif","Noto Serif CJK SC",serif' textLength="8.7" lengthAdjust="spacingAndGlyphs">/</text>
<text transform="translate(714 732.8) rotate(-90)" font-size="17" font-family='"Liberation Serif","Noto Serif CJK SC",serif' textLength="33.6" lengthAdjust="spacingAndGlyphs">MPa</text>
<line x1="749.6" y1="963.7" x2="799.7" y2="963.7" stroke="#0a0af0" stroke-width="4" stroke-linecap="round"/>
<line x1="917.3" y1="963.7" x2="966.4" y2="963.7" stroke="#0a900a" stroke-width="4" stroke-linecap="round"/>
<text x="806.05" y="968.36" font-size="14.84" font-family='"Liberation Serif","Noto Serif CJK SC",serif' font-weight="bold" textLength="79.89" lengthAdjust="spacingAndGlyphs">渗碳合金钢</text>
<text x="971.75" y="968.36" font-size="14.84" font-family='"Liberation Serif","Noto Serif CJK SC",serif' font-weight="bold" textLength="127.09" lengthAdjust="spacingAndGlyphs">火焰或感应淬火钢</text>
<path d="M1344.6 610V891.34M1375.78 610V891.34M1406.96 610V891.34M1438.14 610V891.34M1469.32 610V891.34M1500.5 610V891.34M1531.68 610V891.34M1562.86 610V891.34M1594.04 610V891.34M1625.22 610V891.34M1656.4 610V891.34M1687.58 610V891.34M1718.76 610V891.34M1344.6 610H1718.76M1344.6 625.63H1718.76M1344.6 641.26H1718.76M1344.6 656.89H1718.76M1344.6 672.52H1718.76M1344.6 688.15H1718.76M1344.6 703.78H1718.76M1344.6 719.41H1718.76M1344.6 735.04H1718.76M1344.6 750.67H1718.76M1344.6 766.3H1718.76M1344.6 781.93H1718.76M1344.6 797.56H1718.76M1344.6 813.19H1718.76M1344.6 828.82H1718.76M1344.6 844.45H1718.76M1344.6 860.08H1718.76M1344.6 875.71H1718.76M1344.6 891.34H1718.76" stroke="#a4a4a4" stroke-width="1.15" fill="none"/>
<path d="M1344.6 610V891.34H1718.76" stroke="#6a6ad8" stroke-width="1.2" fill="none"/>
<text x="1342" y="615" font-size="14.5" font-family='"Liberation Serif","Noto Serif CJK SC",serif' text-anchor="end" textLength="27.6" lengthAdjust="spacingAndGlyphs">1500</text>
<text x="1342" y="645.7" font-size="14.5" font-family='"Liberation Serif","Noto Serif CJK SC",serif' text-anchor="end" textLength="27.6" lengthAdjust="spacingAndGlyphs">1400</text>
<text x="1342" y="677.1" font-size="14.5" font-family='"Liberation Serif","Noto Serif CJK SC",serif' text-anchor="end" textLength="27.6" lengthAdjust="spacingAndGlyphs">1300</text>
<text x="1342" y="707.8" font-size="14.5" font-family='"Liberation Serif","Noto Serif CJK SC",serif' text-anchor="end" textLength="27.6" lengthAdjust="spacingAndGlyphs">1200</text>
<text x="1342" y="739" font-size="14.5" font-family='"Liberation Serif","Noto Serif CJK SC",serif' text-anchor="end" textLength="27.6" lengthAdjust="spacingAndGlyphs">1100</text>
<text x="1342" y="770.4" font-size="14.5" font-family='"Liberation Serif","Noto Serif CJK SC",serif' text-anchor="end" textLength="27.6" lengthAdjust="spacingAndGlyphs">1000</text>
<text x="1342" y="801.9" font-size="14.5" font-family='"Liberation Serif","Noto Serif CJK SC",serif' text-anchor="end" textLength="20.7" lengthAdjust="spacingAndGlyphs">900</text>
<text x="1342" y="832.5" font-size="14.5" font-family='"Liberation Serif","Noto Serif CJK SC",serif' text-anchor="end" textLength="20.7" lengthAdjust="spacingAndGlyphs">800</text>
<text x="1342" y="863.2" font-size="14.5" font-family='"Liberation Serif","Noto Serif CJK SC",serif' text-anchor="end" textLength="20.7" lengthAdjust="spacingAndGlyphs">700</text>
<text x="1342" y="894.3" font-size="14.5" font-family='"Liberation Serif","Noto Serif CJK SC",serif' text-anchor="end" textLength="20.7" lengthAdjust="spacingAndGlyphs">600</text>
<text x="1334" y="905.3" font-size="14.5" font-family='"Liberation Serif","Noto Serif CJK SC",serif' textLength="21" lengthAdjust="spacingAndGlyphs">300</text>
<text x="1397" y="905.3" font-size="14.5" font-family='"Liberation Serif","Noto Serif CJK SC",serif' textLength="21" lengthAdjust="spacingAndGlyphs">400</text>
<text x="1458" y="905.3" font-size="14.5" font-family='"Liberation Serif","Noto Serif CJK SC",serif' textLength="21" lengthAdjust="spacingAndGlyphs">500</text>
<text x="1519" y="905.3" font-size="14.5" font-family='"Liberation Serif","Noto Serif CJK SC",serif' textLength="21" lengthAdjust="spacingAndGlyphs">600</text>
<text x="1574" y="905.3" font-size="14.5" font-family='"Liberation Serif","Noto Serif CJK SC",serif' textLength="21" lengthAdjust="spacingAndGlyphs">700</text>
<text x="1646.8" y="905.3" font-size="14.5" font-family='"Liberation Serif","Noto Serif CJK SC",serif' textLength="21" lengthAdjust="spacingAndGlyphs">800</text>
<text x="1709" y="905.3" font-size="14.5" font-family='"Liberation Serif","Noto Serif CJK SC",serif' textLength="21" lengthAdjust="spacingAndGlyphs">900</text>
<text x="1733.3" y="906" font-size="14.5" font-family='"Liberation Serif","Noto Serif CJK SC",serif' textLength="25.6" lengthAdjust="spacingAndGlyphs">HV1</text>
<text x="1345.8" y="889.6" font-size="14.5" font-family='"Liberation Serif","Noto Serif CJK SC",serif' textLength="12.8" lengthAdjust="spacingAndGlyphs">30</text>
<text x="1380.4" y="889.6" font-size="14.5" font-family='"Liberation Serif","Noto Serif CJK SC",serif' textLength="12.8" lengthAdjust="spacingAndGlyphs">35</text>
<text x="1415.4" y="889.6" font-size="14.5" font-family='"Liberation Serif","Noto Serif CJK SC",serif' textLength="12.8" lengthAdjust="spacingAndGlyphs">40</text>
<text x="1443" y="889.6" font-size="14.5" font-family='"Liberation Serif","Noto Serif CJK SC",serif' textLength="12.8" lengthAdjust="spacingAndGlyphs">45</text>
<text x="1473" y="889.6" font-size="14.5" font-family='"Liberation Serif","Noto Serif CJK SC",serif' textLength="12.8" lengthAdjust="spacingAndGlyphs">50</text>
<text x="1535.4" y="889.6" font-size="14.5" font-family='"Liberation Serif","Noto Serif CJK SC",serif' textLength="12.8" lengthAdjust="spacingAndGlyphs">55</text>
<text x="1598.8" y="889.6" font-size="14.5" font-family='"Liberation Serif","Noto Serif CJK SC",serif' textLength="12.8" lengthAdjust="spacingAndGlyphs">60</text>
<text x="1663.7" y="889.6" font-size="14.5" font-family='"Liberation Serif","Noto Serif CJK SC",serif' textLength="12.8" lengthAdjust="spacingAndGlyphs">65</text>
<text x="1733.3" y="893.5" font-size="14.5" font-family='"Liberation Serif","Noto Serif CJK SC",serif' textLength="27.5" lengthAdjust="spacingAndGlyphs">HRC</text>
<line x1="1593.6" y1="625" x2="1688" y2="625" stroke="#0a0af0" stroke-width="3.8" stroke-linecap="round"/>
<line x1="1593.6" y1="687.9" x2="1688" y2="687.9" stroke="#0a0af0" stroke-width="3.8" stroke-linecap="round"/>
<line x1="1562.2" y1="724.1" x2="1688" y2="724.1" stroke="#0a0af0" stroke-width="3.8" stroke-linecap="round"/>
<line x1="1468.5" y1="698.9" x2="1563.4" y2="698.9" stroke="#e81212" stroke-width="3.8" stroke-linecap="round"/>
<line x1="1468.5" y1="765.8" x2="1570" y2="765.8" stroke="#e81212" stroke-width="3.8" stroke-linecap="round"/>
<polyline points="1344.6,834.2 1443.4,778.4 1563.4,779.2" fill="none" stroke="#0a900a" stroke-width="3.8" stroke-linecap="round" stroke-linejoin="round"/>
<line x1="1437" y1="833.4" x2="1563.4" y2="833.4" stroke="#e81212" stroke-width="3.8" stroke-linecap="round"/>
<line x1="1344.6" y1="871.6" x2="1563.4" y2="871.6" stroke="#0a900a" stroke-width="3.8" stroke-linecap="round"/>
<text x="1692" y="630" font-size="14.5" font-family='"Liberation Serif","Noto Serif CJK SC",serif' textLength="19.7" lengthAdjust="spacingAndGlyphs">ME</text>
<text x="1692.8" y="686.2" font-size="14.5" font-family='"Liberation Serif","Noto Serif CJK SC",serif' textLength="21.6" lengthAdjust="spacingAndGlyphs">MQ</text>
<text x="1692" y="733" font-size="14.5" font-family='"Liberation Serif","Noto Serif CJK SC",serif' textLength="19.7" lengthAdjust="spacingAndGlyphs">ML</text>
<text x="1566" y="702" font-size="14.5" font-family='"Liberation Serif","Noto Serif CJK SC",serif' textLength="19.8" lengthAdjust="spacingAndGlyphs">ME</text>
<text x="1572" y="772.3" font-size="14.5" font-family='"Liberation Serif","Noto Serif CJK SC",serif' textLength="21.6" lengthAdjust="spacingAndGlyphs">MQ</text>
<text x="1448" y="792.4" font-size="14.5" font-family='"Liberation Serif","Noto Serif CJK SC",serif' textLength="49.3" lengthAdjust="spacingAndGlyphs">ME=MQ</text>
<text x="1568" y="843.2" font-size="14.5" font-family='"Liberation Serif","Noto Serif CJK SC",serif' textLength="19.7" lengthAdjust="spacingAndGlyphs">ML</text>
<text x="1566" y="876.6" font-size="14.5" font-family='"Liberation Serif","Noto Serif CJK SC",serif' textLength="19.8" lengthAdjust="spacingAndGlyphs">ML</text>
<text x="1359.44" y="591.54" font-size="26.02" font-family='"Liberation Sans","Noto Sans CJK SC",sans-serif' textLength="38.12" lengthAdjust="spacingAndGlyphs">(e)</text>
<text x="1409.46" y="589.58" font-size="17.9" font-family='"Liberation Sans","Noto Sans CJK SC",sans-serif' font-weight="500" textLength="179.37" lengthAdjust="spacingAndGlyphs">渗氮和氮碳共渗钢的</text>
<text x="1592.27" y="588.4" font-size="18.3" font-family='"Liberation Serif","Noto Serif CJK SC",serif' textLength="13.16" lengthAdjust="spacingAndGlyphs">σ</text>
<text x="1605.23" y="589" font-size="9.02" font-family='"Liberation Serif","Noto Serif CJK SC",serif' textLength="23.04" lengthAdjust="spacingAndGlyphs">Hlim</text>
<text transform="translate(1300.8 768) rotate(-90)" font-size="24" font-family='"Liberation Serif","Noto Serif CJK SC",serif' textLength="11.9" lengthAdjust="spacingAndGlyphs">σ</text>
<text transform="translate(1300.8 753.8) rotate(-90)" font-size="10" font-family='"Liberation Serif","Noto Serif CJK SC",serif' textLength="20.1" lengthAdjust="spacingAndGlyphs">Hlim</text>
<text transform="translate(1300.8 733) rotate(-90)" font-size="14" font-family='"Liberation Serif","Noto Serif CJK SC",serif' textLength="4" lengthAdjust="spacingAndGlyphs">/</text>
<text transform="translate(1300.8 728.6) rotate(-90)" font-size="14" font-family='"Liberation Serif","Noto Serif CJK SC",serif' textLength="32.7" lengthAdjust="spacingAndGlyphs">MPa</text>
<line x1="1410.5" y1="929.6" x2="1458.2" y2="929.6" stroke="#0a0af0" stroke-width="4" stroke-linecap="round"/>
<line x1="1410.5" y1="948.4" x2="1458.2" y2="948.4" stroke="#0a900a" stroke-width="4" stroke-linecap="round"/>
<line x1="1410.5" y1="966.8" x2="1458.2" y2="966.8" stroke="#e81212" stroke-width="4" stroke-linecap="round"/>
<text x="1469.09" y="935.38" font-size="13.58" font-family='"Liberation Serif","Noto Serif CJK SC",serif' font-weight="bold" textLength="185.71" lengthAdjust="spacingAndGlyphs">调质-气体渗氮处理的渗氮钢</text>
<text x="1469.09" y="954.77" font-size="13.68" font-family='"Liberation Serif","Noto Serif CJK SC",serif' font-weight="bold" textLength="231.02" lengthAdjust="spacingAndGlyphs">调质或正火-氮碳共渗处理的调质钢</text>
<text x="1469.09" y="972.98" font-size="13.58" font-family='"Liberation Serif","Noto Serif CJK SC",serif' font-weight="bold" textLength="185.71" lengthAdjust="spacingAndGlyphs">调质-气体渗氮处理的调质钢</text>
<text x="682.03" y="1026.88" font-size="29.16" font-family='"Liberation Serif","Noto Serif CJK SC",serif' font-weight="600" fill="#12128a" textLength="27.45" lengthAdjust="spacingAndGlyphs">图</text>
<text x="714.42" y="1024.8" font-size="32.78" font-family='"Liberation Serif","Noto Serif CJK SC",serif' fill="#12128a" textLength="85.87" lengthAdjust="spacingAndGlyphs">10-21</text>
<text x="816.01" y="1027.33" font-size="29.68" font-family='"Liberation Serif","Noto Serif CJK SC",serif' font-weight="600" fill="#12128a" textLength="284.38" lengthAdjust="spacingAndGlyphs">齿轮的接触疲劳极限</text>
<text x="1100.35" y="1025.5" font-size="28.72" font-family='"Liberation Serif","Noto Serif CJK SC",serif' fill="#12128a" textLength="20.6" lengthAdjust="spacingAndGlyphs">σ</text>
<text x="1120.43" y="1032" font-size="19.1" font-family='"Liberation Serif","Noto Serif CJK SC",serif' fill="#12128a" textLength="49.15" lengthAdjust="spacingAndGlyphs">Hlim</text>
</svg>
</body></html>
